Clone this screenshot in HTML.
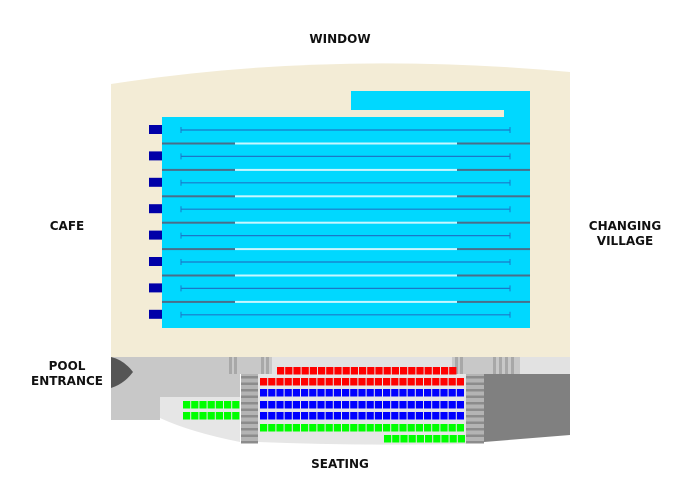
<!DOCTYPE html>
<html><head><meta charset="utf-8"><style>
html,body{margin:0;padding:0;background:#fff;width:700px;height:495px;overflow:hidden}
svg{display:block}
text{font-family:"DejaVu Sans","Liberation Sans",sans-serif;font-weight:bold;font-size:12px;fill:#111}
</style></head><body>
<svg id="s" width="700" height="495" viewBox="0 0 700 495" xmlns="http://www.w3.org/2000/svg">
<path d="M111,84 Q330,50 570,72 L570,357 L111,357 Z" fill="#f3ecd6"/>
<rect x="111" y="357" width="459" height="17" fill="#e2e2e2"/>
<rect x="111" y="357" width="49" height="63" fill="#c8c8c8"/>
<rect x="160" y="357" width="80" height="40" fill="#c8c8c8"/>
<path d="M160,397 L240,397 L240,442 Q190,432 160,418 Z" fill="#e6e6e6"/>
<path d="M258,374 L466,374 L466,444 Q360,446 258,442 Z" fill="#e6e6e6"/>
<rect x="226" y="357" width="46" height="17" fill="#c8c8c8"/>
<rect x="452" y="357" width="68" height="17" fill="#c8c8c8"/>
<path d="M111,357 Q124,360 133,372 Q124,384 111,388 Z" fill="#555"/>
<path d="M484,374 L570,374 L570,435 L484,442 Z" fill="#808080"/>
<rect x="351" y="91" width="179" height="19" fill="#00d8ff"/>
<rect x="504" y="105" width="26" height="15" fill="#00d8ff"/>
<rect x="162" y="117" width="368" height="211" fill="#00d8ff"/>
<g id="g"></g>
<text x="340" y="43" text-anchor="middle">WINDOW</text>
<text x="67" y="230" text-anchor="middle">CAFE</text>
<text x="625" y="230" text-anchor="middle">CHANGING</text>
<text x="625" y="245" text-anchor="middle">VILLAGE</text>
<text x="67" y="370" text-anchor="middle">POOL</text>
<text x="67" y="385" text-anchor="middle">ENTRANCE</text>
<text x="340" y="468" text-anchor="middle">SEATING</text>
</svg>
<script>
var g=document.getElementById('g'),h='';
function r(x,y,w,hh,c){h+='<rect x="'+x+'" y="'+y+'" width="'+w+'" height="'+hh+'" fill="'+c+'"/>';}
for(var i=0;i<8;i++){var y=130+i*26.4;
 r(149,y-5,13,9,'#0000a8');
 h+='<line x1="181" y1="'+y+'" x2="510" y2="'+y+'" stroke="#1a78c8" stroke-width="1.2"/>';
 h+='<line x1="181" y1="'+(y-3)+'" x2="181" y2="'+(y+3)+'" stroke="#1a78c8"/><line x1="510" y1="'+(y-3)+'" x2="510" y2="'+(y+3)+'" stroke="#1a78c8"/>';
 if(i<7){var d=y+13.5;
  r(162,d-1,73,2,'#4a6e8a');r(235,d-1,222,2,'#c8f6ff');r(457,d-1,73,2,'#4a6e8a');}
}
function st(x,w,y0,y1,c){r(x,y0,w,y1-y0,'#b4b4b4');for(var y=y0+2;y<y1;y+=6.5)r(x,y,w,2.5,'#8c8c8c');}
st(241,17,374,442);st(466,18,374,442);
for(var k=0;k<2;k++){r(229+k*5,357,3,17,'#a8a8a8');r(261+k*5,357,3,17,'#a8a8a8');r(455+k*5,357,3,17,'#a8a8a8');}
for(var k=0;k<4;k++)r(493+k*6,357,3,17,'#a8a8a8');
function row(x,y,n,c){for(var j=0;j<n;j++)r(x+j*8.2,y,7.2,7.5,c);}
row(277,367,22,'#f00');row(260,378,25,'#f00');
row(260,389,25,'#00f');row(260,401,25,'#00f');row(260,412,25,'#00f');
row(260,424,25,'#0f0');row(384,435,10,'#0f0');
row(183,401,7,'#0f0');row(183,412,7,'#0f0');
g.innerHTML=h;
</script>
</body></html>
